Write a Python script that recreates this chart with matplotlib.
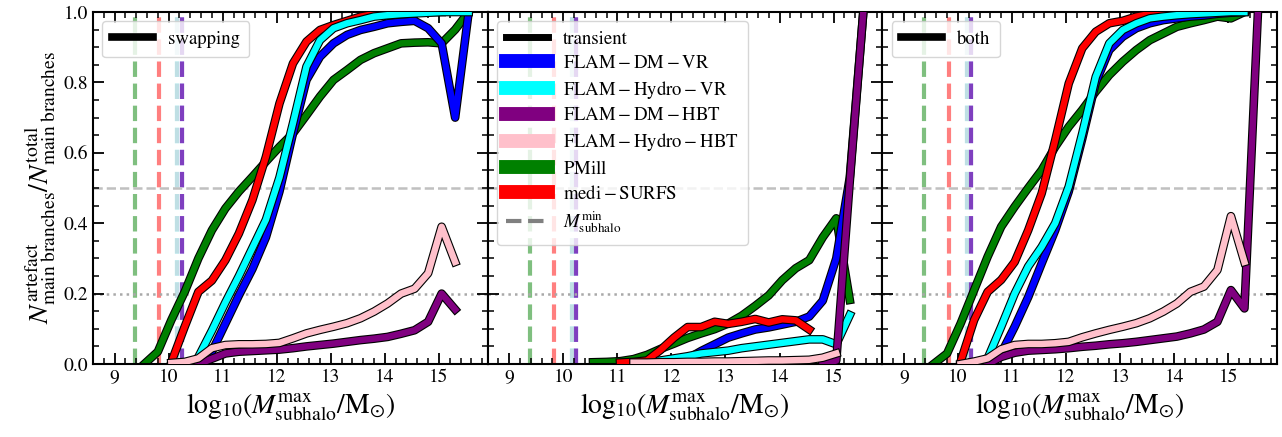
import numpy as np
import matplotlib
matplotlib.use("Agg")
import matplotlib.pyplot as plt
import matplotlib.patheffects as pe
from matplotlib.lines import Line2D
from matplotlib.ticker import MultipleLocator

plt.rcParams["font.family"] = "STIXGeneral"
plt.rcParams["mathtext.fontset"] = "stix"

nan = np.nan

# bin centres in log10(M_subhalo^max / Msun)
log_mass = [9.55, 9.8, 10.05, 10.3, 10.55, 10.8, 11.05, 11.3, 11.55, 11.8,
            12.05, 12.3, 12.55, 12.8, 13.05, 13.3, 13.55, 13.8, 14.05, 14.3,
            14.55, 14.8, 15.05, 15.3, 15.55]

# ---- swapping ----
swap_dm_vr = [nan, nan, nan, nan, nan, 0.035, 0.115, 0.195, 0.27, 0.36,
              0.49, 0.655, 0.807, 0.873, 0.911, 0.935, 0.949, 0.958, 0.968, 0.972,
              0.975, 0.954, 0.911, 0.70, 1.0]
swap_hydro_vr = [nan, nan, nan, nan, 0.02, 0.095, 0.175, 0.25, 0.33, 0.41,
                 0.53, 0.684, 0.845, 0.92, 0.954, 0.968, 0.977, 0.987, 0.991, 0.994,
                 0.996, 0.998, 1.0, 1.0, 1.0]
swap_dm_hbt = [nan, nan, nan, nan, 0.0, 0.015, 0.03, 0.035, 0.037, 0.039,
               0.041, 0.045, 0.05, 0.054, 0.058, 0.063, 0.068, 0.072, 0.077, 0.086,
               0.096, 0.12, 0.2, 0.155, nan]
swap_hydro_hbt = [nan, nan, 0.003, 0.006, 0.016, 0.045, 0.054, 0.056, 0.056, 0.057,
                  0.06, 0.073, 0.087, 0.097, 0.106, 0.116, 0.13, 0.149, 0.172, 0.2,
                  0.214, 0.258, 0.39, 0.29, nan]
swap_pmill = [0.0, 0.035, 0.125, 0.206, 0.30, 0.38, 0.442, 0.49, 0.532, 0.575,
              0.617, 0.655, 0.707, 0.76, 0.807, 0.835, 0.864, 0.883, 0.897, 0.911,
              0.913, 0.914, 0.911, 0.95, 1.0]
swap_medi = [nan, nan, 0.005, 0.107, 0.205, 0.237, 0.295, 0.371, 0.466, 0.589,
             0.74, 0.854, 0.916, 0.949, 0.963, 0.975, 0.987, 0.994, 0.998, 1.0,
             1.0, 1.0, 1.0, nan, nan]

# ---- transient ----
tran_dm_vr = [nan, nan, nan, nan, nan, nan, nan, nan, nan, nan,
              0.0, 0.015, 0.037, 0.056, 0.075, 0.087, 0.098, 0.104, 0.112, 0.12,
              0.135, 0.18, 0.30, 0.53, 1.0]
tran_hydro_vr = [nan, nan, nan, nan, nan, nan, nan, nan, nan, 0.01,
                 0.016, 0.022, 0.03, 0.034, 0.038, 0.045, 0.05, 0.055, 0.06, 0.065,
                 0.07, 0.07, 0.056, 0.139, nan]
tran_dm_hbt = [nan, nan, nan, nan, nan, nan, nan, nan, nan, nan,
               nan, nan, nan, nan, nan, nan, nan, nan, nan, nan,
               nan, 0.0, 0.01, 0.52, 1.0]
tran_hydro_hbt = [nan, nan, nan, nan, nan, nan, nan, 0.004, 0.004, 0.005,
                  0.005, 0.006, 0.006, 0.007, 0.007, 0.008, 0.009, 0.01, 0.01, 0.011,
                  0.012, 0.018, 0.03, nan, nan]
tran_pmill = [nan, nan, nan, nan, 0.005, 0.006, 0.008, 0.014, 0.026, 0.043,
              0.058, 0.074, 0.087, 0.099, 0.115, 0.137, 0.165, 0.195, 0.238, 0.272,
              0.295, 0.36, 0.414, 0.182, nan]
tran_medi = [nan, nan, nan, nan, nan, nan, 0.004, 0.006, 0.01, 0.04,
             0.075, 0.105, 0.105, 0.12, 0.114, 0.12, 0.128, 0.118, 0.127, 0.124,
             0.098, nan, nan, nan, nan]

# ---- both ----
both_dm_vr = [nan, nan, nan, nan, nan, 0.03, 0.106, 0.19, 0.286, 0.38,
              0.49, 0.64, 0.80, 0.892, 0.93, 0.954, 0.968, 0.977, 0.982, 0.987,
              0.99, 0.995, 0.998, 1.0, nan]
both_hydro_vr = [nan, nan, nan, nan, 0.016, 0.106, 0.2, 0.277, 0.333, 0.4,
                 0.504, 0.655, 0.816, 0.911, 0.949, 0.968, 0.982, 0.987, 0.991, 0.994,
                 0.996, 0.998, 1.0, 1.0, nan]
both_dm_hbt = [nan, nan, nan, nan, 0.0, 0.02, 0.032, 0.038, 0.04, 0.042,
               0.045, 0.049, 0.052, 0.056, 0.059, 0.063, 0.068, 0.073, 0.078, 0.087,
               0.098, 0.12, 0.21, 0.158, 1.0]
both_hydro_hbt = [nan, nan, 0.0, 0.007, 0.016, 0.042, 0.054, 0.057, 0.057, 0.059,
                  0.063, 0.076, 0.087, 0.097, 0.106, 0.116, 0.13, 0.149, 0.172, 0.205,
                  0.22, 0.267, 0.42, 0.29, nan]
both_pmill = [0.0, 0.03, 0.115, 0.21, 0.305, 0.39, 0.447, 0.5, 0.551, 0.617,
              0.674, 0.722, 0.774, 0.821, 0.859, 0.892, 0.92, 0.939, 0.958, 0.968,
              0.977, 0.987, 0.982, 1.0, nan]
both_medi = [nan, nan, 0.007, 0.125, 0.205, 0.239, 0.29, 0.38, 0.485, 0.636,
             0.797, 0.897, 0.944, 0.968, 0.975, 0.987, 0.994, 1.0, 1.0, 1.0,
             1.0, 1.0, 1.0, nan, nan]

sim_labels = [r"$\rm FLAM-DM-VR$", r"$\rm FLAM-Hydro-VR$", r"$\rm FLAM-DM-HBT$",
              r"$\rm FLAM-Hydro-HBT$", r"$\rm PMill$", r"$\rm medi-SURFS$"]
sim_colors = ["blue", "cyan", "purple", "pink", "green", "red"]
# minimum subhalo mass of each simulation
mass_min = [10.24, 10.16, 10.24, 10.16, 9.38, 9.83]

panels = [
    ("swapping", [swap_dm_vr, swap_hydro_vr, swap_dm_hbt, swap_hydro_hbt, swap_pmill, swap_medi]),
    ("transient", [tran_dm_vr, tran_hydro_vr, tran_dm_hbt, tran_hydro_hbt, tran_pmill, tran_medi]),
    ("both", [both_dm_vr, both_hydro_vr, both_dm_hbt, both_hydro_hbt, both_pmill, both_medi]),
]

# drawing order of the curves (index into sim lists)
draw_order = [4, 0, 5, 1, 2, 3]

fig, axes = plt.subplots(1, 3, figsize=(12.82, 4.37), dpi=100, sharey=True)
fig.subplots_adjust(left=0.0725, right=0.996, bottom=0.167, top=0.9725, wspace=0)

outline = [pe.Stroke(linewidth=6.2, foreground="black"), pe.Normal()]

for ax, (kind, series) in zip(axes, panels):
    for m, c in zip(mass_min, sim_colors):
        ax.axvline(m, color=c, alpha=0.5, ls="--", lw=3, zorder=1)
    ax.axhline(0.5, color="silver", ls="--", lw=1.8, zorder=1)
    ax.axhline(0.2, color="darkgray", ls=":", lw=1.8, zorder=1)
    for i in draw_order:
        ax.plot(log_mass, series[i], color=sim_colors[i], lw=4.6,
                path_effects=outline, zorder=2 + draw_order.index(i))

    ax.set_xlim(8.6, 15.9)
    ax.set_ylim(0.0, 1.0)
    ax.xaxis.set_major_locator(MultipleLocator(1))
    ax.xaxis.set_minor_locator(MultipleLocator(0.2))
    ax.yaxis.set_major_locator(MultipleLocator(0.2))
    ax.yaxis.set_minor_locator(MultipleLocator(0.05))
    ax.tick_params(which="both", direction="in", top=True, right=True, labelsize=14)
    ax.tick_params(which="major", length=8, width=1.3)
    ax.tick_params(which="minor", length=4, width=1.1)
    for sp in ax.spines.values():
        sp.set_linewidth(1.5)
    ax.set_xlabel(r"${\rm log}_{10}(M^{\rm max}_{\rm subhalo}/{\rm M}_{\odot})$", fontsize=20)

    if kind == "transient":
        handles = [Line2D([], [], color="black", lw=5)]
        labels = [kind]
        for c, lab in zip(sim_colors, sim_labels):
            handles.append(Line2D([], [], color=c, lw=10))
            labels.append(lab)
        handles.append(Line2D([], [], color="gray", ls="--", lw=3))
        labels.append(r"$M^{\rm min}_{\rm subhalo}$")
    else:
        handles = [Line2D([], [], color="black", lw=5.5)]
        labels = [kind]
    leg = ax.legend(handles, labels, loc="upper left", fontsize=13.5,
                    handlelength=2.2, labelspacing=0.36, handletextpad=0.8,
                    borderpad=0.5)
    leg.set_zorder(20)

axes[0].set_ylabel(r"$N^{\rm artefact}_{\rm main\ branches}/N^{\rm total}_{\rm main\ branches}$",
                   fontsize=20)

fig.savefig("out.png", dpi=100)
